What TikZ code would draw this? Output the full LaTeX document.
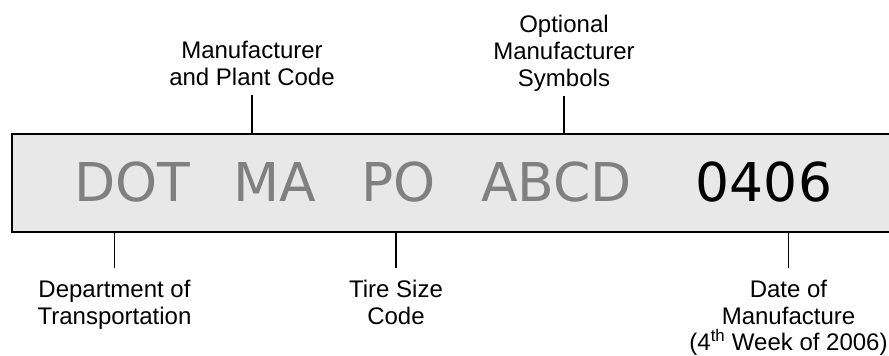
\documentclass[tikz,border=0pt]{standalone}
\usepackage{fontspec}
\setmainfont{Liberation Sans}
\newfontfamily\codefont{DejaVu Sans}
\usepackage{xcolor}
\usepackage{tikz}
\usetikzlibrary{positioning}
\definecolor{codegray}{RGB}{128,128,128}
\definecolor{boxfill}{RGB}{232,232,232}

\begin{document}
\begin{tikzpicture}[
  x=1pt, y=1pt,
  codebox/.style={draw, line width=2pt, fill=boxfill, anchor=north west, minimum width=900pt, minimum height=98pt, inner sep=0pt},
  code/.style={font=\codefont\fontsize{53.5}{60}\selectfont, anchor=base, inner sep=0pt},
  lbl/.style={align=center, inner sep=0pt},
  lbltop/.style={lbl, font=\fontsize{24}{27}\selectfont, anchor=south, text depth=0pt, outer sep=10pt},
  lblbot/.style={lbl, font=\fontsize{24}{26.7}\selectfont, anchor=north, outer sep=12pt},
  tick/.style={line width=1.2pt}
  ]
  \useasboundingbox (0,0) rectangle (889,356);

  % Panel with the sidewall code
  \node[codebox] (box) at (10.5,223) {};
  \foreach \txt/\xc/\col [count=\i] in {DOT/132/codegray, MA/275/codegray, PO/398.5/codegray, ABCD/556.5/codegray, 0406/764/black} {
    \node[code, text=\col] (part\i) at (\xc,154) {\txt};
  }

  % Labels above the panel
  \node[lbltop] (mfg) at (252,260.5) {Manufacturer\\and Plant Code};
  \node[lbltop] (opt) at (564,259.5) {Optional\\Manufacturer\\Symbols};

  % Labels below the panel
  \node[lblbot] (dept) at (114.5,88) {Department of\\Transportation};
  \node[lblbot] (tire) at (396,88) {Tire Size\\Code};
  \node[lblbot] (date) at (788.5,88) {Date of\\Manufacture\\(4\textsuperscript{th} Week of 2006)};

  % Ticks to the panel
  \draw[tick] (mfg.south) -- (mfg.south |- box.north);
  \draw[tick] (opt.south) -- (opt.south |- box.north);
  \draw[tick] (dept.north) -- (dept.north |- box.south);
  \draw[tick] (tire.north) -- (tire.north |- box.south);
  \draw[tick] (date.north) -- (date.north |- box.south);
\end{tikzpicture}
\end{document}
